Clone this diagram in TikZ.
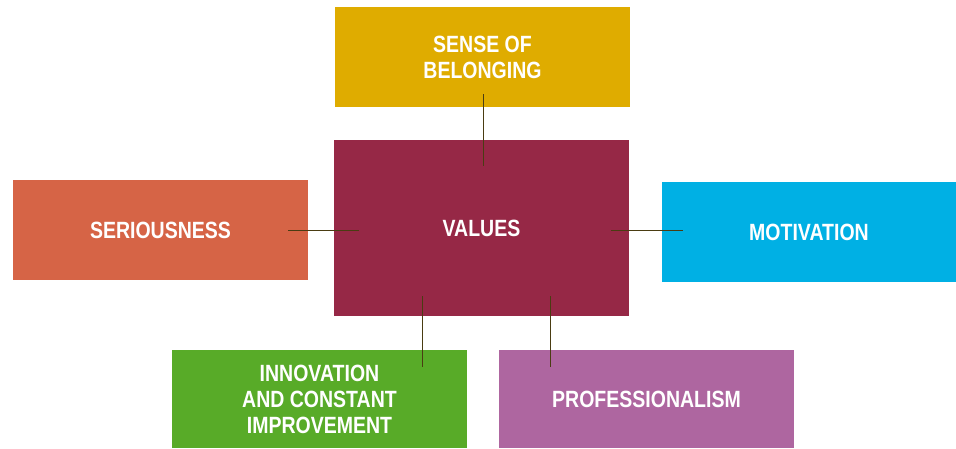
\documentclass[tikz,border=0pt]{standalone}
\usepackage{fontspec}
\newfontfamily\boxfont{Liberation Sans}[FakeStretch=0.83]
\usetikzlibrary{calc}

\definecolor{belongcol}{HTML}{DFAC00}
\definecolor{valuecol}{HTML}{962846}
\definecolor{seriouscol}{HTML}{D66446}
\definecolor{motivcol}{HTML}{00B0E4}
\definecolor{innovcol}{HTML}{58AB28}
\definecolor{profcol}{HTML}{AE66A0}
\definecolor{linkcol}{HTML}{4A3C12}

\tikzset{
    valuebox/.style={minimum width=295pt, minimum height=100pt, inner sep=0pt,
        text=white, align=center,
        font=\boxfont\bfseries\fontsize{23.5}{26}\selectfont},
    link/.style={draw=linkcol, line width=1pt}
}

\begin{document}
\begin{tikzpicture}[x=1pt, y=-1pt]
    \useasboundingbox (0,0) rectangle (956,448);
    \coordinate (B) at (482.5, 57);
    \coordinate (V) at (481.5, 228);
    \coordinate (S) at (160.5, 230);
    \coordinate (M) at (809, 232);
    \coordinate (I) at (319.5, 399);
    \coordinate (P) at (646.5, 399);
    \node[valuebox, fill=belongcol] (belong) at (B) {SENSE OF\\BELONGING};
    \node[valuebox, fill=valuecol, minimum height=176pt] (values) at (V) {VALUES};
    \node[valuebox, fill=seriouscol] (serious) at (S) {SERIOUSNESS};
    \node[valuebox, fill=motivcol, minimum width=294pt] (motiv) at (M) {MOTIVATION};
    \node[valuebox, fill=innovcol, minimum height=98pt] (innov) at (I) {INNOVATION\\AND CONSTANT\\IMPROVEMENT};
    \node[valuebox, fill=profcol, minimum height=98pt] (prof) at (P) {PROFESSIONALISM};
    \draw[link] ($(belong.south)+(0.5,-13)$) -- ($(values.north)+(1.5,26)$);
    \draw[link] ($(serious.east)+(-20,0)$) -- ($(serious.east -| values.west)+(25,0)$);
    \draw[link] ($(serious.east -| values.east)+(-18,0)$) -- ($(serious.east -| motiv.west)+(21,0)$);
    \draw[link] ($(values.south)+(-59.5,-20)$) -- ($(innov.north)+(102.5,17)$);
    \draw[link] ($(values.south)+(68.5,-20)$) -- ($(prof.north)+(-96.5,17)$);
\end{tikzpicture}
\end{document}
